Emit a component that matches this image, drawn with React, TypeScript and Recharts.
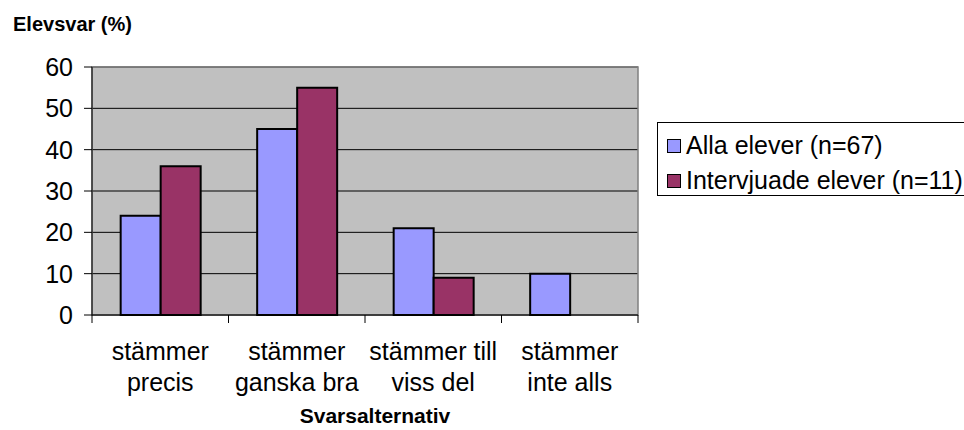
import React from "react"
import { BarChart, Bar, XAxis, YAxis, CartesianGrid, ReferenceArea } from "recharts"

const categories = ["stämmer\nprecis", "stämmer\nganska bra", "stämmer till\nviss del", "stämmer\ninte alls"]
const allaElever = [24, 45, 21, 10]
const intervjuade = [36, 55, 9, 0]
const yTicks = [0, 10, 20, 30, 40, 50, 60]

const seriesNames = ["Alla elever (n=67)", "Intervjuade elever (n=11)"]
const colors = ["#9999FF", "#993366"]

const data = categories.map((c, i) => ({ name: c, alla: allaElever[i], intervju: intervjuade[i] }))

const BAND = (964 - 92 - 326) / categories.length

function XTick(props: any) {
  const { x, y, payload, index } = props
  const lines = String(payload.value).split("\n")
  return (
    <g>
      <line x1={x - BAND / 2} x2={x - BAND / 2} y1={y} y2={y + 8} stroke="#000" />
      {index === categories.length - 1 && <line x1={x + BAND / 2} x2={x + BAND / 2} y1={y} y2={y + 8} stroke="#000" />}
      {lines.map((l, i) => (
        <text key={i} x={x} y={y + 45 + i * 31} textAnchor="middle" fontSize={25} fill="#000">
          {l}
        </text>
      ))}
    </g>
  )
}

function LegendBox() {
  return (
    <div style={{ position: "absolute", left: 657, top: 122, border: "1px solid #000", width: 340, height: 74, background: "#fff", boxSizing: "border-box", paddingTop: 5 }}>
      {seriesNames.map((n, i) => (
        <div key={n} style={{ display: "flex", alignItems: "center", height: 35, paddingLeft: 9 }}>
          <span style={{ width: 12, height: 12, background: colors[i], border: "1.5px solid #000", marginRight: 5, flexShrink: 0 }} />
          <span style={{ fontSize: 25, color: "#000", whiteSpace: "nowrap" }}>{n}</span>
        </div>
      ))}
    </div>
  )
}

export default function App() {
  return (
    <div style={{ position: "absolute", left: 0, top: 0, width: 964, height: 430, overflow: "hidden", background: "#fff", fontFamily: "'Liberation Sans', Arial, sans-serif" }}>
      <div style={{ position: "absolute", left: 13, top: 13, fontSize: 20, fontWeight: "bold" }}>Elevsvar (%)</div>
      <BarChart width={964} height={430} data={data} margin={{ top: 67, right: 326, bottom: 0, left: 32 }} barCategoryGap="21%" barGap={0}>
        <CartesianGrid vertical={false} stroke="#000" fill="#C0C0C0" fillOpacity={1} />
        <ReferenceArea y1={0} y2={60} fill="none" stroke="#808080" strokeWidth={1.5} />
        <XAxis
          dataKey="name"
          height={115}
          axisLine={{ stroke: "#000" }}
          tickLine={false}
          tickSize={0}
          tickMargin={0}
          interval={0}
          tick={<XTick />}
          label={{ value: "Svarsalternativ", position: "insideBottom", offset: 7, dx: 10, fontSize: 21, fontWeight: "bold", fill: "#000" }}
        />
        <YAxis
          width={60}
          domain={[0, 60]}
          ticks={yTicks}
          interval={0}
          axisLine={{ stroke: "#000" }}
          tickLine={{ stroke: "#000" }}
          tickSize={8}
          tickMargin={11}
          tick={{ fontSize: 25, fill: "#000" }}
        />
        <Bar dataKey="alla" name={seriesNames[0]} fill={colors[0]} stroke="#000" strokeWidth={2} isAnimationActive={false} />
        <Bar dataKey="intervju" name={seriesNames[1]} fill={colors[1]} stroke="#000" strokeWidth={2} isAnimationActive={false} />
      </BarChart>
      <LegendBox />
    </div>
  )
}
